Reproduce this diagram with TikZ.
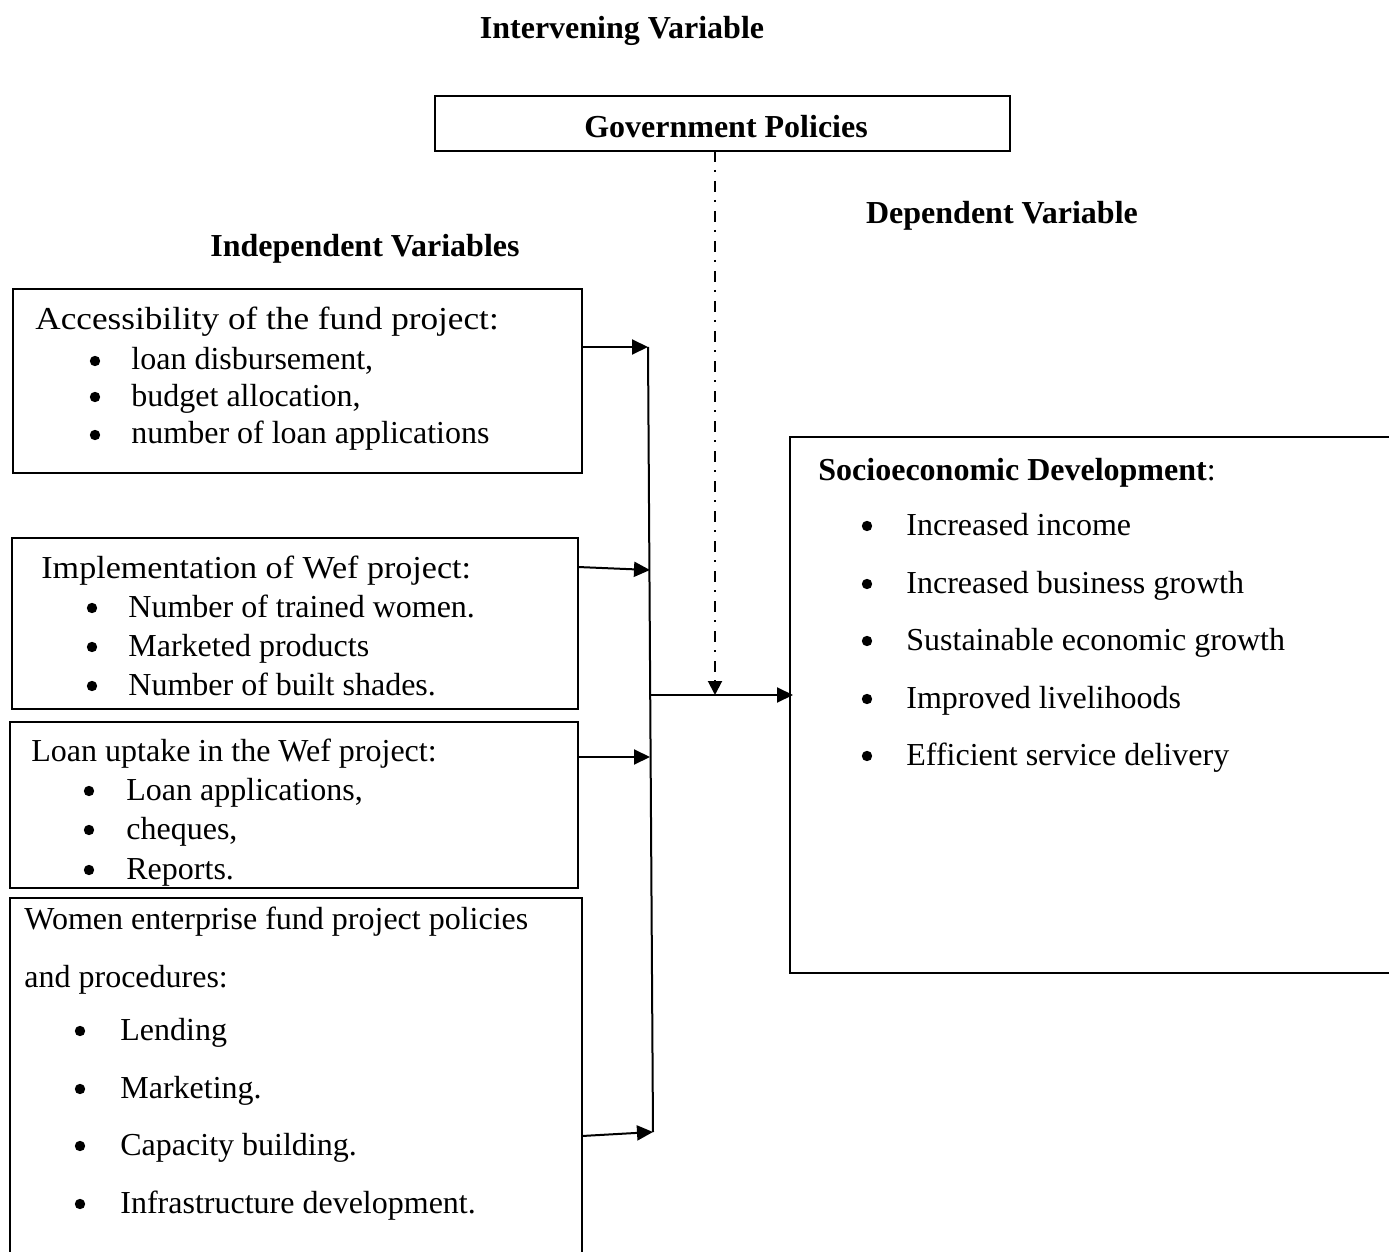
\documentclass[tikz,border=0pt]{standalone}
\usepackage{fontspec}
\setmainfont{Liberation Serif}
\usetikzlibrary{arrows.meta,fit}
\newcommand\bitem[5]{% name, bullet x, text x, centre y, text
  \fill (#2,#4) circle (5.2);
  \node[txt] (#1) at (#3,{#4+9}) {#5};}
\newcommand\widehd[2]{\scalebox{#1}[1]{#2}}
\begin{document}
\begin{tikzpicture}[x=0.5pt,y=-0.5pt,
  font=\fontsize{16}{19}\selectfont,
  box/.style={draw, line width=1pt, inner sep=0pt, outer sep=0pt},
  txt/.style={anchor=base west, inner sep=0pt},
  hd/.style={font=\fontsize{16}{19}\selectfont\bfseries, inner sep=0pt},
  conn/.style={line width=1pt, -{Triangle[length=8pt,width=7.5pt]}},
  dd/.style={line width=1pt, dash pattern=on 5.5pt off 4pt on 1pt off 4.5pt,
    -{Triangle[length=7pt,width=7pt]}}]
\clip (0,0) rectangle (1389,1252);
\fill[white] (0,0) rectangle (1389,1252);

% headings
\node[hd] (tint) at (622,31) {Intervening Variable};
\node[hd] (tdep) at (1002,216) {Dependent Variable};
\node[hd] (tind) at (365,249) {Independent Variables};

% government policies
\node[box, fit={(435,96) (1010,151)}] (gov) {};
\node[hd] (govt) at (726,127) {Government Policies};

% box 1
\node[box, fit={(13,289) (582,473)}] (b1) {};
\node[txt] (b1h) at (35,329) {\widehd{1.1}{Accessibility of the fund project:}};
\bitem{b1a}{95}{131}{361}{loan disbursement,}
\bitem{b1b}{95}{131}{397}{budget allocation,}
\bitem{b1c}{95}{131}{435}{number of loan applications}

% box 2
\node[box, fit={(12,538) (578,709)}] (b2) {};
\node[txt] (b2h) at (41,578) {\widehd{1.065}{Implementation of Wef project:}};
\bitem{b2a}{92}{128}{608}{Number of trained women.}
\bitem{b2b}{92}{128}{647}{Marketed products}
\bitem{b2c}{92}{128}{686}{Number of built shades.}

% box 3
\node[box, fit={(10,722) (578,888)}] (b3) {};
\begin{scope}
\clip (10,722) rectangle (578,887);
\node[txt] (b3h) at (31,761) {Loan uptake in the Wef project:};
\bitem{b3a}{89}{126}{791}{Loan applications,}
\bitem{b3b}{89}{126}{830}{cheques,}
\bitem{b3c}{89}{126}{870}{Reports.}
\end{scope}

% box 4
\node[box, fit={(10,898) (582,1270)}] (b4) {};
\node[txt] (b4h) at (24,929) {Women enterprise fund project policies};
\node[txt] (b4i) at (24,987) {and procedures:};
\bitem{b4a}{80}{120}{1031}{Lending}
\bitem{b4b}{80}{120}{1089}{Marketing.}
\bitem{b4c}{80}{120}{1146}{Capacity building.}
\bitem{b4d}{80}{120}{1204}{Infrastructure development.}

% dependent box
\node[box, fit={(790,437) (1400,973)}] (dep) {};
\node[txt] (deph) at (818,480) {\textbf{Socioeconomic Development}:};
\bitem{depa}{867}{906}{526}{Increased income}
\bitem{depb}{867}{906}{584}{Increased business growth}
\bitem{depc}{867}{906}{641}{Sustainable economic growth}
\bitem{depd}{867}{906}{699}{Improved livelihoods}
\bitem{depe}{867}{906}{756}{Efficient service delivery}

% junction coordinates
\coordinate (j1) at (648,347);
\coordinate (j2) at (650,570);
\coordinate (j3) at (650,757);
\coordinate (j4) at (653,1132);
\coordinate (jm) at (650,695);
\coordinate (gp) at (715,695);

% connectors
\draw[conn] (b1.east |- j1) -- (j1);
\draw[conn] (b2.east |- 0,567) -- (j2);
\draw[conn] (b3.east |- j3) -- (j3);
\draw[conn] (b4.east |- 0,1136) -- (j4);
\draw[line width=1pt] (j1) -- (j4);
\draw[conn] (jm) -- ([xshift=1.5pt]dep.west |- jm);
\draw[dd] (gov.south -| gp) -- (gp);
\end{tikzpicture}
\end{document}
